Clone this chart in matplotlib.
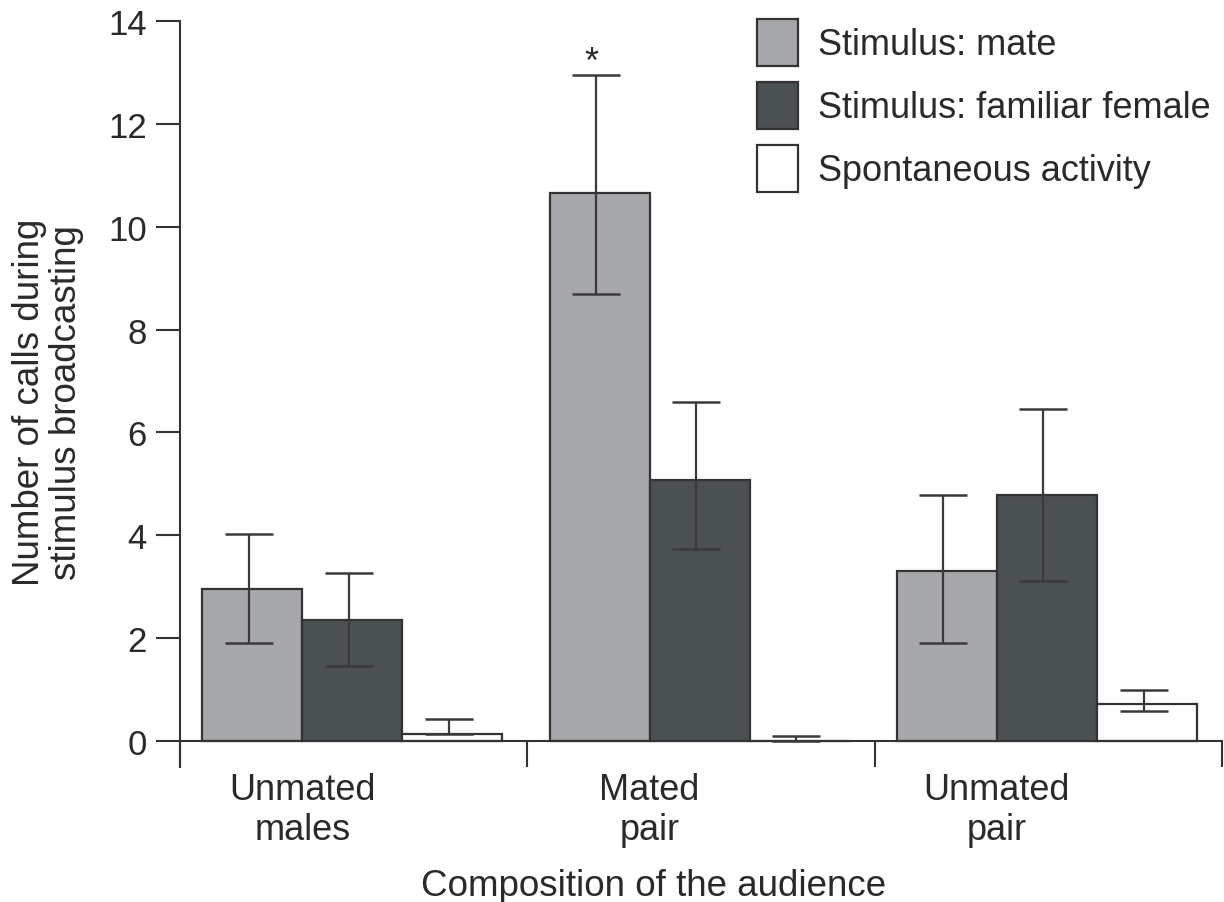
import matplotlib
matplotlib.use("Agg")
import matplotlib.pyplot as plt
import numpy as np
from matplotlib.patches import Patch

plt.rcParams['font.family'] = ['Liberation Sans', 'DejaVu Sans']

groups = ["Unmated\nmales", "Mated\npair", "Unmated\npair"]
series = ["Stimulus: mate", "Stimulus: familiar female", "Spontaneous activity"]
mate = [2.95, 10.65, 3.3]
mate_low = [1.9, 8.7, 1.9]
mate_high = [4.02, 12.95, 4.78]
familiar = [2.36, 5.08, 4.78]
familiar_low = [1.46, 3.74, 3.12]
familiar_high = [3.27, 6.6, 6.45]
spont = [0.13, 0.0, 0.72]
spont_low = [0.13, 0.0, 0.58]
spont_high = [0.42, 0.1, 1.0]
yticks = [0, 2, 4, 6, 8, 10, 12, 14]

colors = ['#a7a8ab', '#4b5052', '#ffffff']
edge = '#333333'
txt = '#2a2a2a'

fig = plt.figure(figsize=(12.24, 9.03), dpi=100)
ax = fig.add_axes([180/1224, 1 - 767.7/903, 1042/1224, (767.7 - 22)/903])

bw = 0.288
off = 0.064
x0 = np.arange(3) + off
data = [(mate, mate_low, mate_high), (familiar, familiar_low, familiar_high),
        (spont, spont_low, spont_high)]
for i, (vals, lo, hi) in enumerate(data):
    xs = x0 + bw * i + bw / 2
    vals = np.array(vals); lo = np.array(lo); hi = np.array(hi)
    ax.bar(xs, vals, width=bw, color=colors[i], edgecolor=edge, linewidth=1.6,
           zorder=2, label=series[i])
    ax.errorbar(xs - 0.01, vals, yerr=[vals - lo, hi - vals], fmt='none', ecolor='#3a3a3a',
                elinewidth=1.6, capsize=17, capthick=1.8, zorder=3)

# asterisk on mated pair mate bar
ax.text(x0[1] + bw / 2 - 0.025, 12.86, '*', ha='center', va='bottom',
        fontsize=26, color=txt)

ax.set_xlim(0, 3)
ax.set_ylim(-0.5, 14)
ax.set_yticks(yticks)
ax.set_yticklabels([str(t) for t in yticks], fontsize=25, color=txt)
ax.tick_params(axis='y', direction='out', length=17, width=1.5, color='#333333', pad=7)

ax.set_xticks([0, 1, 2, 3])
ax.set_xticklabels([])
ax.tick_params(axis='x', which='major', direction='out', length=18.5, width=1.5, color='#333333')
ax.set_xticks(x0 + bw, minor=True)
ax.set_xticklabels(groups, minor=True, linespacing=1.22)
ax.tick_params(axis='x', which='minor', length=0, pad=22, labelsize=26, labelcolor=txt)

for s in ['top', 'right']:
    ax.spines[s].set_visible(False)
ax.spines['bottom'].set_position(('data', 0))
for s in ['left', 'bottom']:
    ax.spines[s].set_linewidth(1.5)
    ax.spines[s].set_color('#333333')

ax.set_ylabel("Number of calls during\nstimulus broadcasting", fontsize=26.5, color=txt,
              linespacing=1.09)
ax.yaxis.set_label_coords(-0.092, 0.49)
ax.set_xlabel("Composition of the audience", fontsize=26.5, color=txt)
ax.xaxis.set_label_coords(0.454, -0.136)

handles = [Patch(facecolor=colors[i], edgecolor=edge, linewidth=1.6) for i in range(3)]
leg = fig.legend(handles, series, loc='upper left', bbox_to_anchor=(757/1224, 1 - 20/903),
                 bbox_transform=fig.transFigure, frameon=False, fontsize=26,
                 handlelength=1.135, handleheight=1.62, labelspacing=0.45,
                 handletextpad=0.55, borderpad=0, borderaxespad=0)
for t in leg.get_texts():
    t.set_color(txt)

fig.savefig("out.png", dpi=100)
